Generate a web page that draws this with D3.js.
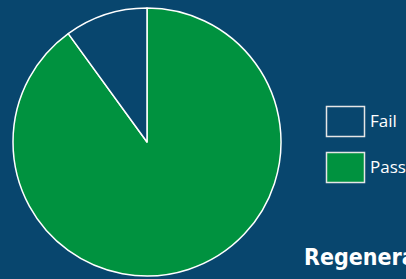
<!DOCTYPE html>
<html lang="en">
  <head>
    <meta charset="UTF-8" />
    <title>Pass / Fail</title>
    <script src="https://d3js.org/d3.v7.min.js"></script>
    <style>
      body {
        margin: 0;
        background-color: #08466e;
        overflow: hidden;
      }
      .legendText {
        font-family: "Open Sans", "Liberation Sans", sans-serif;
        font-size: 17px;
        fill: white;
      }
      #title {
        font-family: "Liberation Sans Narrow", "DejaVu Sans Condensed", sans-serif;
        font-weight: bold;
        font-size: 23px;
        fill: white;
      }
    </style>
  </head>
  <body>
    <script>
      // values
      const categories = ["Pass", "Fail"];
      const values = [90, 10];
      const legendOrder = ["Fail", "Pass"];
      const titleText = "Regeneration";

      const width = 406;
      const height = 279;
      const bg = "#08466e";
      const green = "#00923f";

      const svg = d3
        .select("body")
        .append("svg")
        .attr("width", width)
        .attr("height", height);

      svg.append("rect")
        .attr("width", width)
        .attr("height", height)
        .attr("fill", bg);

      const color = d3.scaleOrdinal().domain(["Fail", "Pass"]).range([bg, green]);

      const pie = d3.pie().sort(null).value((d, i) => values[i]);
      const arc = d3.arc().innerRadius(0).outerRadius(134);

      const g = svg.append("g").attr("transform", "translate(147,142)");

      g.selectAll("path")
        .data(pie(categories))
        .enter()
        .append("path")
        .attr("d", arc)
        .attr("fill", (d) => color(d.data))
        .attr("stroke", "white")
        .attr("stroke-width", 1.5)
        .attr("stroke-linejoin", "round");

      // legend
      const y = d3.scalePoint().domain(legendOrder).range([106, 152]);

      const legend = svg
        .selectAll(".legend")
        .data(legendOrder)
        .enter()
        .append("g")
        .attr("class", "legend")
        .attr("transform", (d) => "translate(326," + y(d) + ")");

      legend.append("rect")
        .attr("x", 0.5)
        .attr("y", 0.5)
        .attr("width", 38)
        .attr("height", 30)
        .attr("fill", (d) => color(d))
        .attr("stroke", "#e6e6e6")
        .attr("stroke-width", 1.5);

      legend.append("text")
        .attr("class", "legendText")
        .attr("x", 44)
        .attr("y", 21)
        .text((d) => d);

      svg.append("text")
        .attr("id", "title")
        .attr("x", 304)
        .attr("y", 265)
        .text(titleText);
    </script>
  </body>
</html>
